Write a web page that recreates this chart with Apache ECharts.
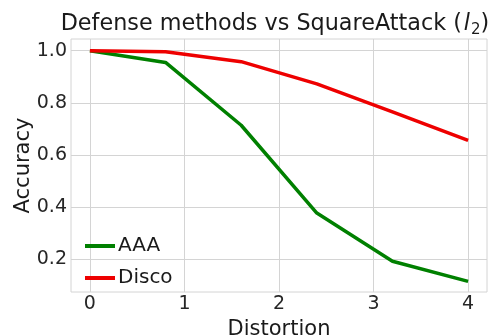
<!DOCTYPE html>
<html>
<head>
<meta charset="utf-8">
<script src="https://cdn.jsdelivr.net/npm/echarts@6/dist/echarts.min.js"></script>
<style>html,body{margin:0;padding:0;background:#fff;}#c{width:488px;height:335px;}</style>
</head>
<body>
<div id="c"></div>
<script>
const distortion = [0, 0.8, 1.6, 2.4, 3.2, 4.0];
const aaa = [1.0, 0.955, 0.714, 0.377, 0.192, 0.115];
const disco = [1.0, 0.996, 0.958, 0.873, 0.765, 0.656];
const xTicks = [0, 1, 2, 3, 4];
const yTicks = [0.2, 0.4, 0.6, 0.8, 1.0];

const font = 'DejaVu Sans';
const chart = echarts.init(document.getElementById('c'), null, {renderer: 'canvas'});
chart.setOption({
  animation: false,
  backgroundColor: '#fff',
  title: {
    text: '{a|Defense methods vs SquareAttack (}{i|l}{s|2}{a|)}',
    left: 270, textAlign: 'center', top: 5,
    textStyle: {
      fontWeight: 'normal',
      rich: {
        a: {fontFamily: font, fontSize: 22.3, fontWeight: 'normal', color: '#1a1a1a'},
        i: {fontFamily: font, fontSize: 22.3, fontWeight: 'normal', fontStyle: 'italic', color: '#1a1a1a', padding: [0, 1, 0, 2]},
        s: {fontFamily: font, fontSize: 15, fontWeight: 'normal', color: '#1a1a1a', verticalAlign: 'bottom', padding: [13, 0, 0, 0]}
      }
    }
  },
  grid: {left: 71, right: 1, top: 39, bottom: 43, show: true, borderColor: '#d4d4d4', borderWidth: 1,
         containLabel: false, outerBoundsMode: 'none'},
  legend: {
    left: 80, top: 231, orient: 'vertical', itemGap: 12,
    icon: 'rect', itemWidth: 30, itemHeight: 4,
    textStyle: {fontFamily: font, fontSize: 20, color: '#1a1a1a', padding: [0,0,0,-2]},
    data: ['AAA', 'Disco']
  },
  xAxis: {
    type: 'value', min: -0.2, max: 4.2,
    name: 'Distortion', nameLocation: 'middle', nameGap: 27, nameMoveOverlap: false,
    nameTextStyle: {fontFamily: font, fontSize: 21, color: '#1a1a1a'},
    axisLine: {show: false}, 
    axisTick: {show: false, customValues: xTicks},
    axisLabel: {customValues: xTicks, fontFamily: font, fontSize: 19, color: '#262626', margin: 3, formatter: v => String(v)},
    splitLine: {show: true, lineStyle: {color: '#d4d4d4', width: 1}}
  },
  yAxis: {
    type: 'value', min: 0.074, max: 1.045,
    name: 'Accuracy', nameLocation: 'middle', nameGap: 37, nameRotate: 90, nameMoveOverlap: false,
    nameTextStyle: {fontFamily: font, fontSize: 21, color: '#1a1a1a'},
    axisLine: {show: false},
    axisTick: {show: false, customValues: yTicks},
    axisLabel: {customValues: yTicks, fontFamily: font, fontSize: 19, color: '#262626', margin: 4, formatter: v => v.toFixed(1)},
    splitLine: {show: true, lineStyle: {color: '#d4d4d4', width: 1}}
  },
  series: [
    {name: 'AAA', type: 'line', data: distortion.map((x, i) => [x, aaa[i]]), showSymbol: false, symbol: 'none',
     lineStyle: {color: '#008000', width: 3.5}, itemStyle: {color: '#008000'}},
    {name: 'Disco', type: 'line', data: distortion.map((x, i) => [x, disco[i]]), showSymbol: false, symbol: 'none',
     lineStyle: {color: '#ee0000', width: 3.5}, itemStyle: {color: '#ee0000'}}
  ]
});
</script>
</body>
</html>
